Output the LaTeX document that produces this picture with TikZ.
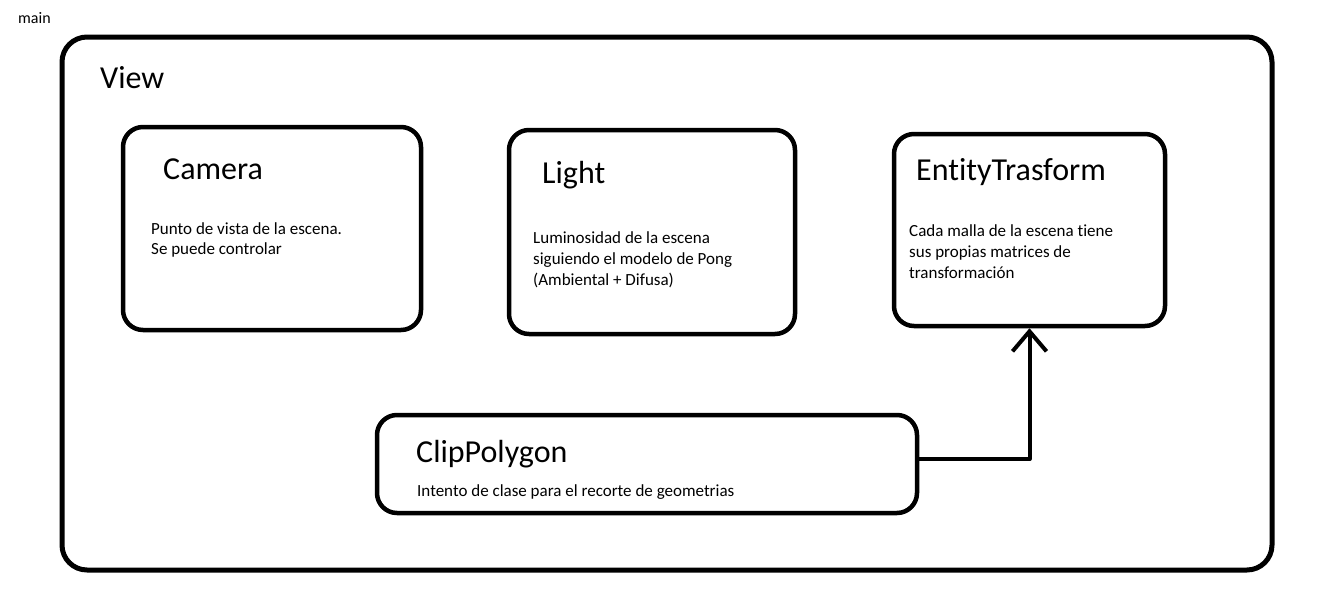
\documentclass[tikz,border=0pt]{standalone}
\usepackage{fontspec}
\setmainfont{Carlito}[Ligatures={NoCommon}]
\usetikzlibrary{arrows.meta}
\tikzset{
  box/.style={draw=black, line width=4.5pt, rounded corners=20pt, rectangle, inner sep=0pt},
  titletext/.style={anchor=base west, inner sep=0pt, font=\fontsize{32}{38}\selectfont},
  bodytext/.style={anchor=base west, inner sep=0pt, align=left, font=\fontsize{17}{21}\selectfont},
  link/.style={draw=black, line width=4pt, line cap=round, line join=round},
}
\begin{document}
\begin{tikzpicture}[x=1pt,y=-1pt]
\useasboundingbox (0,0) rectangle (1323,603);
\fill[white] (0,0) rectangle (1323,603);
% outer frame
\node[box, line width=5pt, rounded corners=25pt, minimum width=1210, minimum height=533] (viewBox) at (667,303.5) {};
\node[anchor=base west, inner sep=0pt, font=\fontsize{16}{19}\selectfont] (main) at (18,23) {main};
\node[titletext] (view) at (100,88) {View};
% boxes (multi-line texts are placed by the baseline of their last line)
\node[box, minimum width=298, minimum height=203] (cameraBox) at (272,228.5) {};
\node[titletext] (camera) at (163,179) {Camera};
\node[bodytext, font=\fontsize{17}{20}\selectfont] (cameraTxt) at (151,254) {Punto de vista de la escena.\\Se puede controlar};

\node[box, minimum width=286, minimum height=204] (lightBox) at (652,232) {};
\node[titletext] (light) at (542,183) {Light};
\node[bodytext] (lightTxt) at (533,285) {Luminosidad de la escena\\siguiendo el modelo de Pong\\(Ambiental + Difusa)};

\node[box, minimum width=271, minimum height=192] (entityBox) at (1029.5,230) {};
\node[titletext] (entity) at (916,180) {EntityTrasform};
\node[bodytext] (entityTxt) at (909,278) {Cada malla de la escena tiene\\sus propias matrices de\\transformaci\'on};

\node[box, minimum width=540, minimum height=98] (clipBox) at (647,464) {};
\node[titletext] (clip) at (416,462) {ClipPolygon};
\node[bodytext] (clipTxt) at (417,496) {Intento de clase para el recorte de geometrias};

% connector
\draw[link, -{Straight Barb[length=20pt,width=34pt,line width=4pt]}] ([yshift=5pt]clipBox.east) -| (entityBox.south);
\end{tikzpicture}
\end{document}
